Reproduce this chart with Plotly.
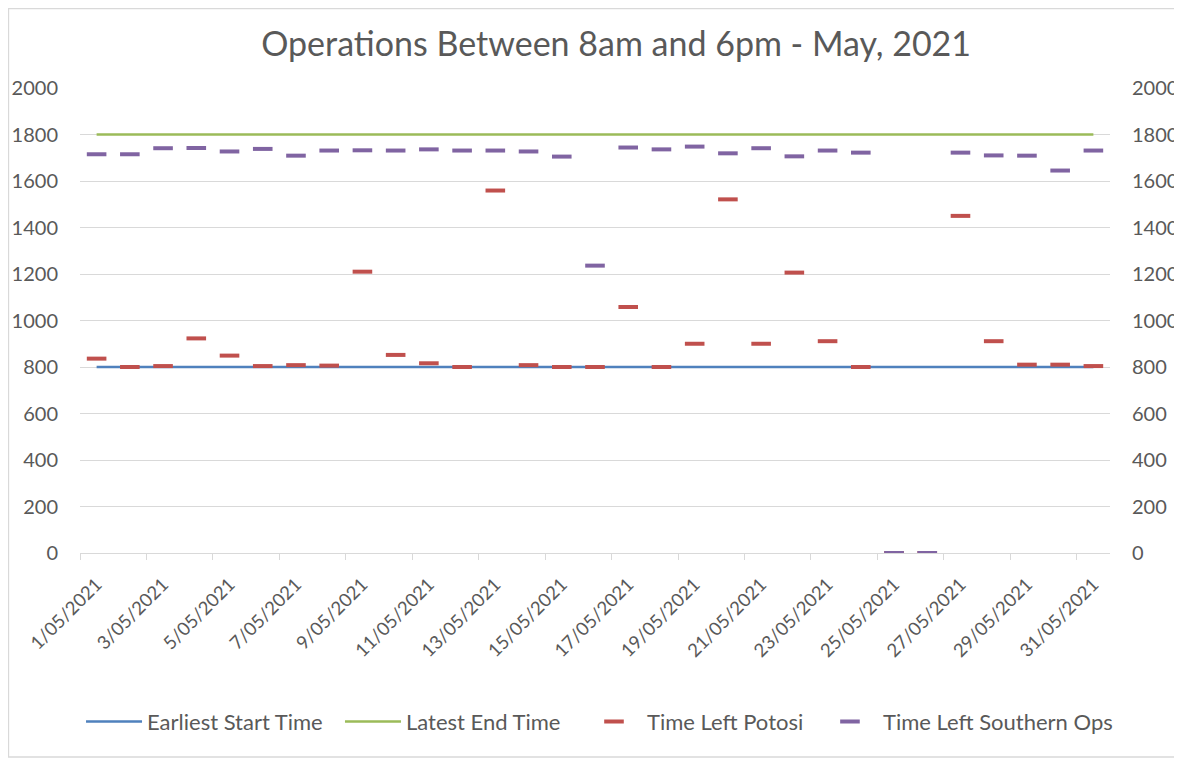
import plotly.graph_objects as go

days = list(range(1, 32))
date_labels = [f"{d}/05/2021" for d in days]
earliest_start = [800] * 31
latest_end = [1800] * 31
potosi = [836, 800, 804, 923, 849, 804, 808, 806, 1210, 852, 816, 800, 1559, 808, 800,
          800, 1058, 800, 900, 1521, 900, 1206, 911, 800, 0, 0, 1450, 911, 810, 810, 804]
southern = [1715, 1715, 1741, 1742, 1727, 1738, 1709, 1731, 1732, 1731, 1736, 1731, 1731, 1727, 1705,
            1236, 1744, 1736, 1748, 1719, 1741, 1706, 1731, 1722, 0, 0, 1722, 1710, 1709, 1645, 1731]
y_ticks = list(range(0, 2001, 200))
tick_days = days[::2]
tick_text = date_labels[::2]

FONT = "Lato"
GREY = "#595959"
GRID = "#d9d9d9"

fig = go.Figure()
fig.add_trace(go.Scatter(x=days, y=earliest_start, mode="lines", name="Earliest Start Time",
                         line=dict(color="#4F81BD", width=2.5), legend="legend"))
fig.add_trace(go.Scatter(x=days, y=latest_end, mode="lines", name="Latest End Time",
                         line=dict(color="#9BBB59", width=2.5), legend="legend2"))
fig.add_trace(go.Scatter(x=days, y=potosi, mode="markers", name="Time Left Potosi",
                         marker=dict(symbol="line-ew", size=14, color="#C0504D",
                                     line=dict(color="#C0504D", width=4)), legend="legend3"))
fig.add_trace(go.Scatter(x=days, y=southern, mode="markers", name="Time Left Southern Ops",
                         yaxis="y2",
                         marker=dict(symbol="line-ew", size=14, color="#8064A2",
                                     line=dict(color="#8064A2", width=4)), legend="legend4"))
# invisible trace to carry the tick-mark axis
fig.add_trace(go.Scatter(x=[0.5, 31.5], y=[None, None], xaxis="x2", showlegend=False,
                         hoverinfo="skip", mode="lines"))

def leg(x):
    return dict(orientation="h", x=x, xanchor="left", y=-0.363, yanchor="middle",
                font=dict(size=22, color=GREY), itemwidth=56, bgcolor="rgba(0,0,0,0)")

fig.update_layout(
    width=1182, height=759,
    margin=dict(l=72, r=80, t=80, b=214),
    paper_bgcolor="white", plot_bgcolor="white",
    font=dict(family=FONT, color=GREY, size=20),
    title=dict(text="Operations Between 8am and 6pm - May, 2021", x=0.5145, xanchor="center",
               y=0.952, yanchor="middle", font=dict(family=FONT, size=34, color=GREY)),
    xaxis=dict(range=[0.5, 31.5], tickmode="array", tickvals=tick_days, ticktext=tick_text,
               tickangle=-45, showgrid=False, zeroline=False, showline=False, ticks="",
               tickfont=dict(size=18.5, color=GREY), ticklabelstandoff=16, automargin=False),
    xaxis2=dict(range=[0.5, 31.5], overlaying="x", anchor="y", side="bottom",
                tickmode="array", tickvals=[0.5 + 2 * k for k in range(16)],
                ticks="outside", ticklen=6, tickcolor=GRID, tickwidth=1.3,
                showticklabels=False, showgrid=False, zeroline=False,
                showline=True, linecolor=GRID, linewidth=1.3, automargin=False),
    yaxis=dict(range=[0, 2000], tickmode="array", tickvals=y_ticks, showgrid=True,
               gridcolor=GRID, gridwidth=1.3, zeroline=False, showline=False,
               tickfont=dict(size=20, color=GREY), ticklabelstandoff=21, automargin=False),
    yaxis2=dict(range=[0, 2000], overlaying="y", side="right", tickmode="array",
                tickvals=y_ticks, showgrid=False, zeroline=False, showline=False,
                tickfont=dict(size=20, color=GREY), ticklabelstandoff=21, automargin=False),
    legend=leg(0.001),
    legend2=leg(0.2524),
    legend3=leg(0.4864),
    legend4=leg(0.7155),
    shapes=[dict(type="rect", xref="paper", yref="paper", x0=-0.0694, x1=1.068,
                 y0=-0.4387, y1=1.171, line=dict(color=GRID, width=1.3))],
)

fig.write_html("out.html")
